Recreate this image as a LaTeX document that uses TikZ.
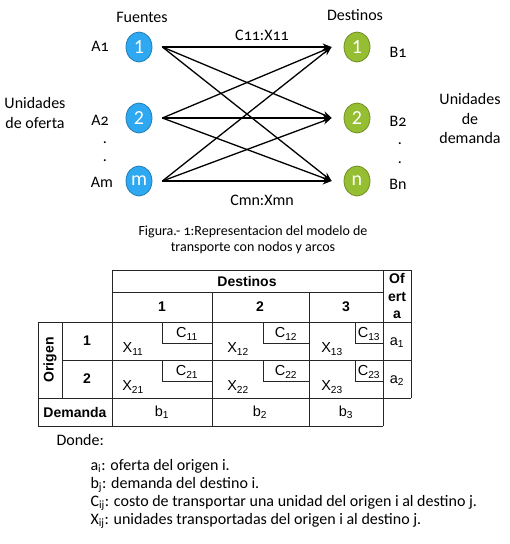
\documentclass[tikz,border=0pt]{standalone}
\usepackage{fontspec}
\setmainfont{Carlito}[Numbers=OldStyle]
\newfontfamily\numfont{Carlito}
\newfontfamily\tabfont{Liberation Sans}
\usetikzlibrary{shapes.geometric,arrows.meta}

\definecolor{srcblue}{RGB}{46,168,240}
\definecolor{dstgreen}{RGB}{150,190,50}

\tikzset{
  src/.style={ellipse, fill=srcblue, draw=srcblue!75!black, line width=0.8pt,
    minimum width=26pt, minimum height=30pt, inner sep=0pt, text=white,
    font=\numfont\fontsize{20}{20}\selectfont},
  dst/.style={src, fill=dstgreen, draw=dstgreen!75!black},
  flow/.style={-{Stealth[length=9pt,width=7pt]}, line width=1.3pt},
  dotmark/.style={anchor=base, inner sep=0pt},
  tabline/.style={line width=0.8pt, black!85},
  hdr/.style={font=\tabfont\bfseries\fontsize{14}{17.5}\selectfont},
  val/.style={font=\tabfont\fontsize{14.5}{16}\selectfont},
}

\begin{document}
\begin{tikzpicture}[x=1pt, y=-1pt, every node/.style={font=\fontsize{16}{19.5}\selectfont}]
    \useasboundingbox (0,0) rectangle (510,544);
    % Sources and destinations
    \node[src] (s1) at (139,47)  {1};
    \node[src] (s2) at (139,118) {2};
    \node[src] (sm) at (139,181) {m};
    \node[dst] (d1) at (357,47)  {1};
    \node[dst] (d2) at (357,118) {2};
    \node[dst] (dn) at (357,181) {n};
    % Arcs
    \foreach \s in {s1,s2,sm}
        \foreach \d in {d1,d2,dn}
            \draw[flow] ([xshift=10pt]\s.east) -- ([xshift=-12pt]\d.west);
    % Labels
    \node (fuentes)  at (142,17) {Fuentes};
    \node (destinos) at (355,15) {Destinos};
    \node (c11) at (262,35)  {C11:X11};
    \node (cmn) at (262,200) {Cmn:Xmn};
    \node (a1) at (100,46)  {A1};
    \node (a2) at (100,120) {A2};
    \node[dotmark] (ad1) at (105,143) {.};
    \node[dotmark] (ad2) at (105,161) {.};
    \node (am) at (102,182) {Am};
    \node (b1) at (398,52)  {B1};
    \node (b2) at (398,121) {B2};
    \node[dotmark] (bd1) at (400,144) {.};
    \node[dotmark] (bd2) at (400,163) {.};
    \node (bn) at (398,184) {Bn};
    \node[align=center] (oferta)  at (35,113)  {Unidades\\de oferta};
    \node[align=center] (demanda) at (470,119) {Unidades\\de\\demanda};
    \node[align=center, font=\fontsize{14}{16.5}\selectfont] (caption) at (253,240)
        {Figura.- 1:Representacion del modelo de\\transporte con nodos y arcos};
    % Table grid
    \draw[tabline] (112,270) -- (411,270);
    \draw[tabline] (112,292) -- (383,292);
    \draw[tabline] (38,322) -- (411,322);
    \draw[tabline] (62,360) -- (411,360);
    \draw[tabline] (38,398) -- (411,398);
    \draw[tabline] (38,426) -- (383,426);
    \draw[tabline] (38,322) -- (38,426);
    \draw[tabline] (62,322) -- (62,398);
    \draw[tabline] (112,270) -- (112,426);
    \draw[tabline] (212,292) -- (212,426);
    \draw[tabline] (309,292) -- (309,426);
    \draw[tabline] (383,270) -- (383,426);
    \draw[tabline] (411,270) -- (411,398);
    % Cost corners
    \foreach \x/\r in {162/212, 263/309, 355/383}
        \foreach \t in {322,360}
            \draw[tabline] (\x,\t) -- (\x,\t+21) -- (\r,\t+21);
    % Table headers
    \node[hdr] (dest) at (247,281) {Destinos};
    \node[hdr] (k1) at (162,307) {1};
    \node[hdr] (k2) at (260,307) {2};
    \node[hdr] (k3) at (346,307) {3};
    \node[hdr, align=center] (of) at (397,296) {Of\\ert\\a};
    \node[hdr, rotate=90] (origen) at (50,360) {Origen};
    \node[hdr] (dem) at (75,412) {Demanda};
    % Table cells
    \foreach \i/\y in {1/341, 2/379} {
        \node[hdr] (r\i) at (87,\y) {\i};
        \foreach \j/\x/\c in {1/133/187, 2/238/286, 3/332/369} {
            \node[val] (x\i\j) at (\x,\y+8) {X\textsubscript{\i\j}};
            \node[val] (c\i\j) at (\c,\y-7) {C\textsubscript{\i\j}};
        }
        \node[val] (o\i) at (397,\y+2) {a\textsubscript{\i}};
    }
    \foreach \j/\x in {1/162, 2/260, 3/346}
        \node[val] (bb\j) at (\x,412) {b\textsubscript{\j}};
    % Legend
    \node[anchor=west] (donde) at (53,440) {Donde:};
    \node[anchor=west] (la) at (87,466) {a\textsubscript{i}: oferta del origen i.};
    \node[anchor=west] (lb) at (87,485) {b\textsubscript{j}: demanda del destino i.};
    \node[anchor=west] (lc) at (87,503) {C\textsubscript{ij}: costo de transportar una unidad del origen i al destino j.};
    \node[anchor=west] (lx) at (87,521) {X\textsubscript{ij}: unidades transportadas del origen i al destino j.};
\end{tikzpicture}
\end{document}
